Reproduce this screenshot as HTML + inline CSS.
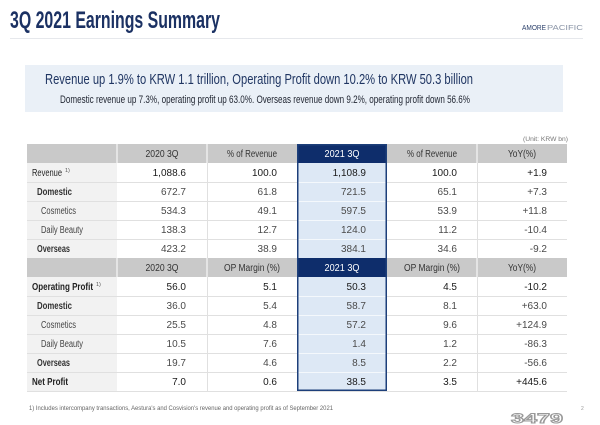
<!DOCTYPE html>
<html><head><meta charset="utf-8">
<style>
html,body{margin:0;padding:0;background:#fff;}
svg{display:block;}
text{font-family:"Liberation Sans","DejaVu Sans",sans-serif;}
</style></head>
<body>
<svg width="600" height="425" viewBox="0 0 600 425" xmlns="http://www.w3.org/2000/svg">
<rect width="600" height="425" fill="#ffffff"/>
<!-- Title -->
<text x="10" y="28" font-size="24" font-weight="bold" fill="#1b3163" textLength="210" lengthAdjust="spacingAndGlyphs">3Q 2021 Earnings Summary</text>
<text x="522" y="30" font-size="7" fill="#2a3f6a" textLength="24" lengthAdjust="spacingAndGlyphs">AMORE</text>
<text x="547" y="30" font-size="7" fill="#8a94a6" textLength="36" lengthAdjust="spacingAndGlyphs">PACIFIC</text>
<line x1="10" y1="38.5" x2="583" y2="38.5" stroke="#e6e8ec" stroke-width="1"/>

<!-- Headline box -->
<rect x="25" y="65" width="538" height="47" fill="#eaf0f7"/>
<text x="45" y="84" font-size="14.5" fill="#1f3562" textLength="428" lengthAdjust="spacingAndGlyphs">Revenue up 1.9% to KRW 1.1 trillion, Operating Profit down 10.2% to KRW 50.3 billion</text>
<text x="60" y="103" font-size="11" fill="#222733" textLength="410" lengthAdjust="spacingAndGlyphs">Domestic revenue up 7.3%, operating profit up 63.0%. Overseas revenue down 9.2%, operating profit down 56.6%</text>

<text x="568" y="141" font-size="6.5" fill="#777" text-anchor="end" textLength="45" lengthAdjust="spacingAndGlyphs">(Unit: KRW bn)</text>

<!-- Table backgrounds -->
<rect x="27" y="163" width="90" height="95" fill="#f2f2f2"/>
<rect x="27" y="277" width="90" height="114" fill="#f2f2f2"/>
<rect x="297" y="144" width="90" height="247" fill="#dde8f5"/>
<!-- Header rows -->
<rect x="27" y="144" width="540" height="19" fill="#c9c9c9"/>
<rect x="27" y="258" width="540" height="19" fill="#c9c9c9"/>
<rect x="297" y="144" width="90" height="19" fill="#0e2d6b"/>
<rect x="297" y="258" width="90" height="19" fill="#0e2d6b"/>
<!-- header separators -->
<g stroke="#ffffff" stroke-width="1">
<line x1="117" y1="144" x2="117" y2="163"/><line x1="207" y1="144" x2="207" y2="163"/><line x1="477" y1="144" x2="477" y2="163"/>
<line x1="117" y1="258" x2="117" y2="277"/><line x1="207" y1="258" x2="207" y2="277"/><line x1="477" y1="258" x2="477" y2="277"/>
</g>
<!-- body row lines -->
<g stroke="#e0e0e0" stroke-width="1">
<line x1="27" y1="182.5" x2="567" y2="182.5"/>
<line x1="27" y1="201.5" x2="567" y2="201.5"/>
<line x1="27" y1="220.5" x2="567" y2="220.5"/>
<line x1="27" y1="239.5" x2="567" y2="239.5"/>
<line x1="27" y1="296.5" x2="567" y2="296.5"/>
<line x1="27" y1="315.5" x2="567" y2="315.5"/>
<line x1="27" y1="334.5" x2="567" y2="334.5"/>
<line x1="27" y1="353.5" x2="567" y2="353.5"/>
<line x1="27" y1="372.5" x2="567" y2="372.5"/>
<line x1="27" y1="391.5" x2="567" y2="391.5"/>
<line x1="207.5" y1="163" x2="207.5" y2="258"/>
<line x1="477.5" y1="163" x2="477.5" y2="258"/>
<line x1="207.5" y1="277" x2="207.5" y2="391"/>
<line x1="477.5" y1="277" x2="477.5" y2="391"/>
</g>
<g stroke="#f4f8fc" stroke-width="1">
<line x1="298" y1="182.5" x2="386" y2="182.5"/>
<line x1="298" y1="201.5" x2="386" y2="201.5"/>
<line x1="298" y1="220.5" x2="386" y2="220.5"/>
<line x1="298" y1="239.5" x2="386" y2="239.5"/>
<line x1="298" y1="296.5" x2="386" y2="296.5"/>
<line x1="298" y1="315.5" x2="386" y2="315.5"/>
<line x1="298" y1="334.5" x2="386" y2="334.5"/>
<line x1="298" y1="353.5" x2="386" y2="353.5"/>
<line x1="298" y1="372.5" x2="386" y2="372.5"/>
</g>
<rect x="297.75" y="144.75" width="88.5" height="245.5" fill="none" stroke="#1d3f7a" stroke-width="1.5"/>

<!-- Header texts -->
<g font-size="10" fill="#333" text-anchor="middle">
<text x="162" y="157" textLength="33" lengthAdjust="spacingAndGlyphs">2020 3Q</text>
<text x="252" y="157" textLength="50" lengthAdjust="spacingAndGlyphs">% of Revenue</text>
<text x="342" y="157" fill="#ffffff" textLength="35" lengthAdjust="spacingAndGlyphs">2021 3Q</text>
<text x="432" y="157" textLength="50" lengthAdjust="spacingAndGlyphs">% of Revenue</text>
<text x="522" y="157" textLength="28" lengthAdjust="spacingAndGlyphs">YoY(%)</text>
<text x="162" y="271" textLength="33" lengthAdjust="spacingAndGlyphs">2020 3Q</text>
<text x="252" y="271" textLength="56" lengthAdjust="spacingAndGlyphs">OP Margin (%)</text>
<text x="342" y="271" fill="#ffffff" textLength="35" lengthAdjust="spacingAndGlyphs">2021 3Q</text>
<text x="432" y="271" textLength="56" lengthAdjust="spacingAndGlyphs">OP Margin (%)</text>
<text x="522" y="271" textLength="28" lengthAdjust="spacingAndGlyphs">YoY(%)</text>
</g>

<!-- Labels -->
<g font-size="10" fill="#222">
<text x="32" y="176" textLength="30" lengthAdjust="spacingAndGlyphs">Revenue</text>
<text x="65" y="172" font-size="5.5" fill="#555">1)</text>
<text x="37" y="195" font-weight="bold" fill="#333" textLength="35" lengthAdjust="spacingAndGlyphs">Domestic</text>
<text x="41" y="214" fill="#444" textLength="35" lengthAdjust="spacingAndGlyphs">Cosmetics</text>
<text x="41" y="233" fill="#444" textLength="42" lengthAdjust="spacingAndGlyphs">Daily Beauty</text>
<text x="37" y="252" font-weight="bold" fill="#333" textLength="33" lengthAdjust="spacingAndGlyphs">Overseas</text>
<text x="32" y="290" font-weight="bold" textLength="61" lengthAdjust="spacingAndGlyphs">Operating Profit</text>
<text x="96" y="286" font-size="5.5" fill="#555">1)</text>
<text x="37" y="309" font-weight="bold" fill="#333" textLength="35" lengthAdjust="spacingAndGlyphs">Domestic</text>
<text x="41" y="328" fill="#444" textLength="35" lengthAdjust="spacingAndGlyphs">Cosmetics</text>
<text x="41" y="347" fill="#444" textLength="42" lengthAdjust="spacingAndGlyphs">Daily Beauty</text>
<text x="37" y="366" font-weight="bold" fill="#333" textLength="33" lengthAdjust="spacingAndGlyphs">Overseas</text>
<text x="32" y="385" font-weight="bold" textLength="36" lengthAdjust="spacingAndGlyphs">Net Profit</text>
</g>

<!-- Values -->
<g font-size="10" fill="#4a4a4a" text-anchor="end">
<!-- 2020 3Q col x=186 -->
<text x="186" y="176" fill="#1a1a1a">1,088.6</text>
<text x="186" y="195">672.7</text>
<text x="186" y="214">534.3</text>
<text x="186" y="233">138.3</text>
<text x="186" y="252">423.2</text>
<text x="186" y="290" fill="#1a1a1a">56.0</text>
<text x="186" y="309">36.0</text>
<text x="186" y="328">25.5</text>
<text x="186" y="347">10.5</text>
<text x="186" y="366">19.7</text>
<text x="186" y="385" fill="#1a1a1a">7.0</text>
<!-- % col x=277 -->
<text x="277" y="176" fill="#1a1a1a">100.0</text>
<text x="277" y="195">61.8</text>
<text x="277" y="214">49.1</text>
<text x="277" y="233">12.7</text>
<text x="277" y="252">38.9</text>
<text x="277" y="290" fill="#1a1a1a">5.1</text>
<text x="277" y="309">5.4</text>
<text x="277" y="328">4.8</text>
<text x="277" y="347">7.6</text>
<text x="277" y="366">4.6</text>
<text x="277" y="385" fill="#1a1a1a">0.6</text>
<!-- 2021 3Q col x=366 -->
<text x="366" y="176" fill="#1a1a1a">1,108.9</text>
<text x="366" y="195">721.5</text>
<text x="366" y="214">597.5</text>
<text x="366" y="233">124.0</text>
<text x="366" y="252">384.1</text>
<text x="366" y="290" fill="#1a1a1a">50.3</text>
<text x="366" y="309">58.7</text>
<text x="366" y="328">57.2</text>
<text x="366" y="347">1.4</text>
<text x="366" y="366">8.5</text>
<text x="366" y="385" fill="#1a1a1a">38.5</text>
<!-- % col x=457 -->
<text x="457" y="176" fill="#1a1a1a">100.0</text>
<text x="457" y="195">65.1</text>
<text x="457" y="214">53.9</text>
<text x="457" y="233">11.2</text>
<text x="457" y="252">34.6</text>
<text x="457" y="290" fill="#1a1a1a">4.5</text>
<text x="457" y="309">8.1</text>
<text x="457" y="328">9.6</text>
<text x="457" y="347">1.2</text>
<text x="457" y="366">2.2</text>
<text x="457" y="385" fill="#1a1a1a">3.5</text>
<!-- YoY col x=547 -->
<text x="547" y="176" fill="#1a1a1a">+1.9</text>
<text x="547" y="195">+7.3</text>
<text x="547" y="214">+11.8</text>
<text x="547" y="233">-10.4</text>
<text x="547" y="252">-9.2</text>
<text x="547" y="290" fill="#1a1a1a">-10.2</text>
<text x="547" y="309">+63.0</text>
<text x="547" y="328">+124.9</text>
<text x="547" y="347">-86.3</text>
<text x="547" y="366">-56.6</text>
<text x="547" y="385" fill="#1a1a1a">+445.6</text>
</g>

<!-- Footnote -->
<text x="29" y="410" font-size="6.5" fill="#666" textLength="304" lengthAdjust="spacingAndGlyphs">1) Includes intercompany transactions, Aestura's and Cosvision's revenue and operating profit as of September 2021</text>
<text x="581" y="410" font-size="5" fill="#999">2</text>
<text x="511" y="423" font-size="14" font-weight="bold" fill="#ffffff" stroke="#999999" stroke-width="1" textLength="52" lengthAdjust="spacingAndGlyphs">3479</text>
</svg>
</body></html>
